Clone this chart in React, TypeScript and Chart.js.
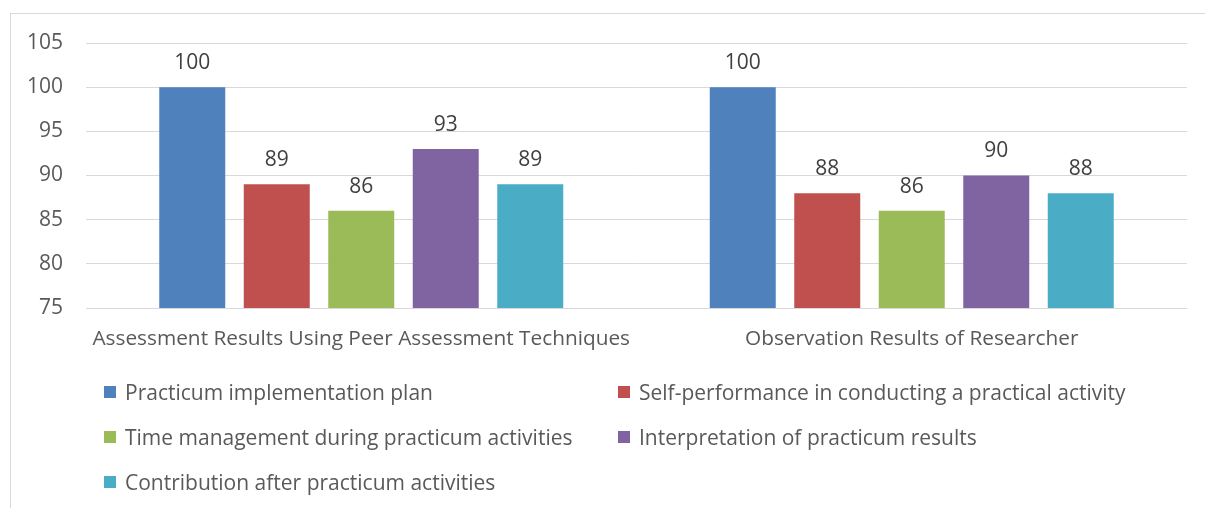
import React, { useEffect, useRef } from "react";
import { Chart, registerables } from "chart.js";

Chart.register(...registerables);

const categories = [
  "Assessment Results Using Peer Assessment Techniques",
  "Observation Results of Researcher",
];
const seriesNames = [
  "Practicum implementation plan",
  "Self-performance in conducting a practical activity",
  "Time management during practicum activities",
  "Interpretation of practicum results",
  "Contribution after practicum activities",
];
const planValues = [100, 100];
const selfPerfValues = [89, 88];
const timeMgmtValues = [86, 86];
const interpValues = [93, 90];
const contribValues = [89, 88];
const seriesColors = ["#4F81BD", "#C0504D", "#9BBB59", "#8064A2", "#4BACC6"];
const yMin = 75;
const yMax = 105;
const yStep = 5;

const FONT = "'Open Sans', 'Noto Sans', sans-serif";
const FONT_SIZE = 21;
const TEXT_COLOR = "#595959";

const dataLabelPlugin = {
  id: "dataLabels",
  afterDatasetsDraw(chart: any) {
    const ctx = chart.ctx;
    ctx.save();
    ctx.font = `${FONT_SIZE}px ${FONT}`;
    ctx.fillStyle = "#404040";
    ctx.textAlign = "center";
    ctx.textBaseline = "middle";
    chart.data.datasets.forEach((ds: any, i: number) => {
      const meta = chart.getDatasetMeta(i);
      meta.data.forEach((bar: any, j: number) => {
        ctx.fillText(String(ds.data[j]), bar.x, bar.y - 24);
      });
    });
    ctx.restore();
  },
};

export default function App() {
  const canvasRef = useRef<HTMLCanvasElement | null>(null);

  useEffect(() => {
    if (!canvasRef.current) return;
    const valueLists = [planValues, selfPerfValues, timeMgmtValues, interpValues, contribValues];
    const chart = new Chart(canvasRef.current, {
      type: "bar",
      data: {
        labels: categories,
        datasets: seriesNames.map((name, i) => ({
          label: name,
          data: valueLists[i],
          backgroundColor: seriesColors[i],
          borderWidth: 0,
          categoryPercentage: 0.7675,
          barPercentage: 0.781,
        })),
      },
      options: {
        responsive: false,
        animation: false,
        layout: { padding: { left: 0, top: 43, right: 18, bottom: 0 } },
        plugins: {
          legend: { display: false },
          tooltip: { enabled: false },
        },
        scales: {
          x: {
            grid: { display: false, drawTicks: false },
            border: { display: false },
            ticks: {
              color: TEXT_COLOR,
              font: { family: FONT, size: 20.8 },
              padding: 19,
              maxRotation: 0,
              autoSkip: false,
            },
            afterFit(scale: any) {
              scale.height = 200;
            },
          },
          y: {
            min: yMin,
            max: yMax,
            grid: { color: "#D9D9D9", lineWidth: 1, drawTicks: false },
            border: { display: false },
            ticks: {
              stepSize: yStep,
              color: TEXT_COLOR,
              font: { family: FONT, size: FONT_SIZE },
              padding: 23,
            },
            afterFit(scale: any) {
              scale.width = 86;
            },
          },
        },
      },
      plugins: [dataLabelPlugin],
    });
    return () => chart.destroy();
  }, []);

  return (
    <div
      style={{
        position: "fixed",
        left: 0,
        top: 0,
        width: 1205,
        height: 508,
        overflow: "hidden",
        background: "#ffffff",
      }}
    >
      <div
        style={{
          position: "absolute",
          left: 10,
          top: 13,
          width: 1195,
          height: 495,
          borderLeft: "1px solid #D9D9D9",
          borderTop: "1px solid #D9D9D9",
        }}
      />
      <canvas
        ref={canvasRef}
        width={1205}
        height={508}
        style={{ position: "absolute", left: 0, top: 0, width: 1205, height: 508 }}
      />
      {seriesNames.map((name, i) => {
        const col = i % 2;
        const row = Math.floor(i / 2);
        return (
          <div
            key={name}
            style={{
              position: "absolute",
              left: col === 0 ? 104 : 618,
              top: 392 + row * 45 - 14,
              height: 28,
              display: "flex",
              alignItems: "center",
              fontFamily: FONT,
              fontSize: FONT_SIZE,
              color: TEXT_COLOR,
              whiteSpace: "nowrap",
            }}
          >
            <span
              style={{
                display: "inline-block",
                width: 12,
                height: 12,
                background: seriesColors[i],
                marginRight: 9,
              }}
            />
            <span>{name}</span>
          </div>
        );
      })}
    </div>
  );
}
